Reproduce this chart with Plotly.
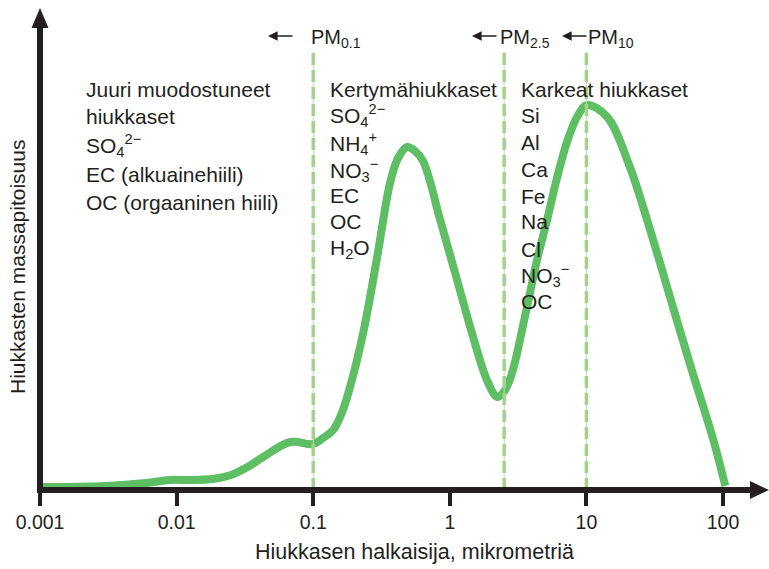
import plotly.graph_objects as go

# ---- data ----
diameter_um = [0.001, 0.003, 0.006, 0.0089, 0.0118, 0.0185, 0.025, 0.034, 0.043, 0.068, 0.1,
               0.118, 0.14, 0.163, 0.186, 0.232, 0.293, 0.365, 0.418, 0.487, 0.556, 0.637, 0.85,
               1.13, 1.48, 1.87, 2.22, 2.45, 2.71, 3.0, 3.32, 3.74, 4.35, 5.15, 6.09, 7.21,
               8.54, 10.1, 14.2, 20.8, 30.8, 43.0, 60.0, 85.0, 104.0]
mass_relative = [3, 4, 7, 10, 10, 11, 15, 24, 33, 48, 46,
                 52, 60, 78, 103, 157, 232, 307, 332, 343, 339, 329, 270,
                 210, 153, 110, 93, 97, 108, 128, 155, 188, 230, 270, 312, 348,
                 373, 385, 373, 323, 250, 183, 117, 50, 4]

cut_sizes = [0.1, 2.5, 10]
cut_top = 438
tick_vals = [0.001, 0.01, 0.1, 1, 10, 100]
tick_text = ["0.001", "0.01", "0.1", "1", "10", "100"]

col1 = ["Juuri muodostuneet", "hiukkaset", "SO<sub>4</sub><sup>2\u2212</sup>",
        "EC (alkuainehiili)", "OC (orgaaninen hiili)"]
col2 = ["Kertymähiukkaset", "SO<sub>4</sub><sup>2\u2212</sup>", "NH<sub>4</sub><sup>+</sup>",
        "NO<sub>3</sub><sup>\u2212</sup>", "EC", "OC", "H<sub>2</sub>O"]
col3 = ["Karkeat hiukkaset", "Si", "Al", "Ca", "Fe", "Na", "Cl",
        "NO<sub>3</sub><sup>\u2212</sup>", "OC"]
pm_labels = ["PM<sub>0.1</sub>", "PM<sub>2.5</sub>", "PM<sub>10</sub>"]

# ---- layout geometry (pixels) ----
W, H = 769, 569
L, R, T, B = 40, 0, 5, 79
PW, PH = W - L - R, H - T - B
FONT = "Liberation Sans, Arial, Helvetica, sans-serif"
TXT = "#231f20"


def px(x):
    return (x - L) / PW


def py(y):
    return (H - B - y) / PH


fig = go.Figure()
fig.add_trace(go.Scatter(x=diameter_um, y=mass_relative, mode="lines",
                         line=dict(color="#5dbe63", width=8, shape="spline", smoothing=1.0),
                         hoverinfo="skip", showlegend=False))
for c in cut_sizes:
    fig.add_trace(go.Scatter(x=[c, c], y=[0, cut_top], mode="lines",
                             line=dict(color="#bcdeae", width=1),
                             hoverinfo="skip", showlegend=False))
    fig.add_trace(go.Scatter(x=[c, c], y=[0, cut_top], mode="lines",
                             line=dict(color="#a3d18e", width=3.5, dash="12px,5px"),
                             hoverinfo="skip", showlegend=False))

ann = []


def text(x, y, t, size=21, anchor="left"):
    ann.append(dict(x=px(x), y=py(y), xref="paper", yref="paper", text=t, showarrow=False,
                    xanchor=anchor, yanchor="middle", font=dict(size=size, color=TXT, family=FONT)))


ys1 = [89, 117, 146, 174, 202]
for t, y in zip(col1, ys1):
    text(84, y, t)
ys2 = [89, 116, 143, 170, 195, 222, 249]
for t, y in zip(col2, ys2):
    text(328, y, t)
ys3 = [89, 116, 142, 169, 196, 222, 249, 275, 301]
for t, y in zip(col3, ys3):
    text(519, y, t)

pm_x = [309, 498, 586]
arrow_tip = [268, 472, 562]
for lab, x, tip in zip(pm_labels, pm_x, arrow_tip):
    text(x, 39, lab, size=20)
    ann.append(dict(x=px(tip), y=py(36), xref="paper", yref="paper", text="",
                    showarrow=True, ax=26, ay=0, arrowhead=2, arrowsize=1.2,
                    arrowwidth=1.6, arrowcolor=TXT, standoff=0, startstandoff=0))

# axis titles
ann.append(dict(x=px(414), y=py(552), xref="paper", yref="paper",
                text="Hiukkasen halkaisija, mikrometriä", showarrow=False,
                xanchor="center", yanchor="middle", font=dict(size=21.5, color=TXT, family=FONT)))
ann.append(dict(x=px(17), y=py(267), xref="paper", yref="paper",
                text="Hiukkasten massapitoisuus", showarrow=False, textangle=-90,
                xanchor="center", yanchor="middle", font=dict(size=21, color=TXT, family=FONT)))

# axes drawn as thick black arrows
AX = "#231f20"
shapes = [
    dict(type="line", xref="paper", yref="paper", x0=px(40), x1=px(40), y0=py(493), y1=py(24),
         line=dict(color=AX, width=6), layer="above"),
    dict(type="path", xref="paper", yref="paper",
         path=f"M {px(40)} {py(8)} L {px(31.5)} {py(28)} L {px(48.5)} {py(28)} Z",
         fillcolor=AX, line=dict(width=0), layer="above"),
    dict(type="line", xref="paper", yref="paper", x0=px(37), x1=px(753), y0=py(490), y1=py(490),
         line=dict(color=AX, width=6), layer="above"),
    dict(type="path", xref="paper", yref="paper",
         path=f"M {px(769)} {py(490)} L {px(750)} {py(481)} L {px(750)} {py(499)} Z",
         fillcolor=AX, line=dict(width=0), layer="above"),
]

fig.update_layout(
    width=W, height=H, margin=dict(l=L, r=R, t=T, b=B),
    paper_bgcolor="white", plot_bgcolor="white",
    annotations=ann, shapes=shapes, showlegend=False,
    xaxis=dict(type="log", range=[-3.0005, -3 + PW / 136.6], showgrid=False, zeroline=False,
               showline=False, ticks="outside", ticklen=15, tickwidth=4, tickcolor=AX,
               tickvals=tick_vals, ticktext=tick_text,
               tickfont=dict(size=19.5, color=TXT, family=FONT), fixedrange=True),
    yaxis=dict(range=[0, PH], showgrid=False, zeroline=False, showline=False,
               showticklabels=False, ticks="", fixedrange=True),
)

fig.write_html("out.html", config={"displayModeBar": False},
               post_script="document.body.style.margin='0';")
